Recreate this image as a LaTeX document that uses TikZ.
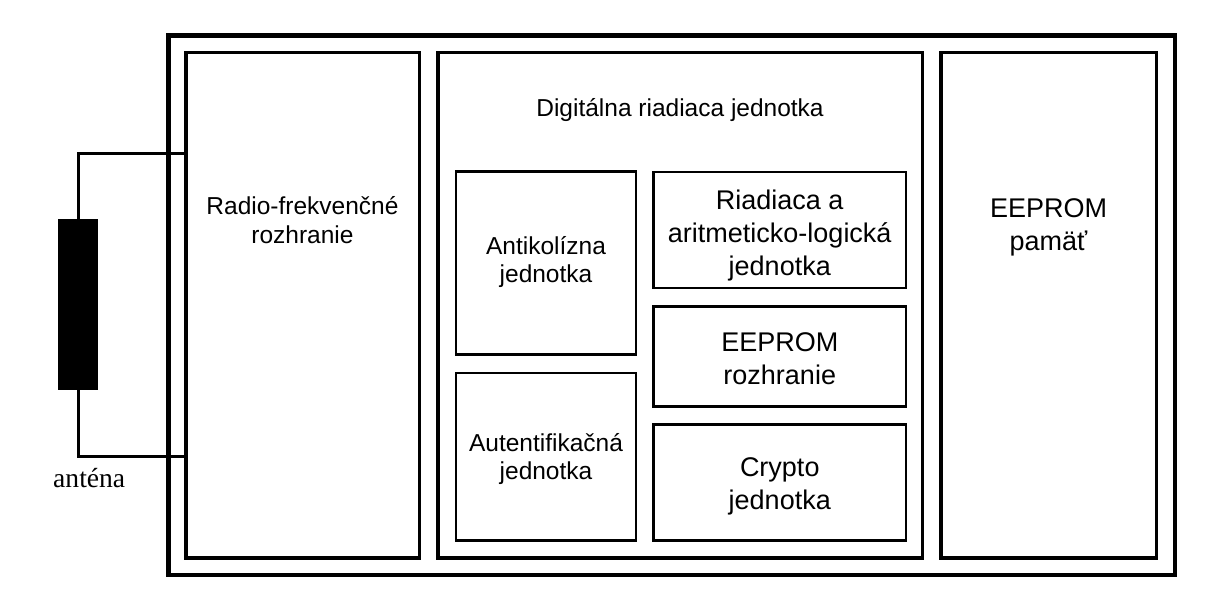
\documentclass[tikz,border=0pt]{standalone}
\usepackage{fontspec}
\setmainfont{Liberation Sans}
\newfontfamily\antserif{Liberation Serif}
\begin{document}
\begin{tikzpicture}[x=1pt,y=-1pt,
  outerbox/.style={draw=black,line width=4.6pt,line join=miter,inner sep=0pt,outer sep=0pt},
  bigbox/.style={draw=black,line width=3.4pt,line join=miter,inner sep=0pt,outer sep=0pt},
  smallbox/.style={draw=black,line width=2.8pt,line join=miter,inner sep=0pt,outer sep=0pt},
  lbl/.style={align=center,inner sep=0pt,font=\fontsize{24.5}{28.5}\selectfont},
  rlbl/.style={align=center,inner sep=0pt,font=\fontsize{27}{33}\selectfont},
  wire/.style={draw=black,line width=3pt,line join=miter}]
\useasboundingbox (0,0) rectangle (1206,604);
% outer chip box
\node[outerbox,minimum width=1006.5pt,minimum height=539.5pt] (chip) at (671.75,305.25) {};
% main blocks
\node[bigbox,minimum width=233.5pt,minimum height=505.5pt] (rf) at (302.75,305.25) {};
\node[bigbox,minimum width=484.5pt,minimum height=505.5pt] (dig) at (680.25,305.25) {};
\node[bigbox,minimum width=215.5pt,minimum height=505.5pt] (eep) at (1048.75,305.25) {};
% digital sub-blocks
\node[smallbox,minimum width=180pt,minimum height=183pt] (anti) at (546,263) {};
\node[smallbox,minimum width=180pt,minimum height=167.5pt] (auth) at (546,456.75) {};
\node[smallbox,minimum width=252.5pt,minimum height=116pt] (alu) at (779.75,230) {};
\node[smallbox,minimum width=252.5pt,minimum height=100pt] (eif) at (779.75,356.5) {};
\node[smallbox,minimum width=252.5pt,minimum height=116pt] (cry) at (779.75,482.5) {};
% labels
\node[lbl] (rftxt) at (302.5,220) {Radio-frekvenčné\\rozhranie};
\node[lbl,anchor=base] (digtxt) at (680,117) {Digitálna riadiaca jednotka};
\node[lbl] (antitxt) at (546,262) {Antikolízna\\jednotka};
\node[lbl] (authtxt) at (546,459) {Autentifikačná\\jednotka};
\node[rlbl,text depth=0pt] (alutxt) at (779.75,232.5) {Riadiaca a\\aritmeticko-logická\\jednotka};
\node[rlbl] (eiftxt) at (779.75,359) {EEPROM\\rozhranie};
\node[rlbl] (crytxt) at (779.75,486.5) {Crypto\\jednotka};
\node[rlbl] (eeptxt) at (1048.5,227) {EEPROM\\pamäť};
% antenna
\node[fill=black,draw=none,inner sep=0pt,minimum width=40pt,minimum height=171pt] (ant) at (78,304.5) {};
\coordinate (rftop) at (rf.west |- 0,154);
\coordinate (rfbot) at (rf.west |- 0,456.5);
\draw[wire] (ant.north) |- (rftop);
\draw[wire] (ant.south) |- (rfbot);
\node[anchor=base west,inner sep=0pt,font=\antserif\fontsize{27.6}{30}\selectfont] (anttxt) at (53,487) {anténa};
\end{tikzpicture}
\end{document}
